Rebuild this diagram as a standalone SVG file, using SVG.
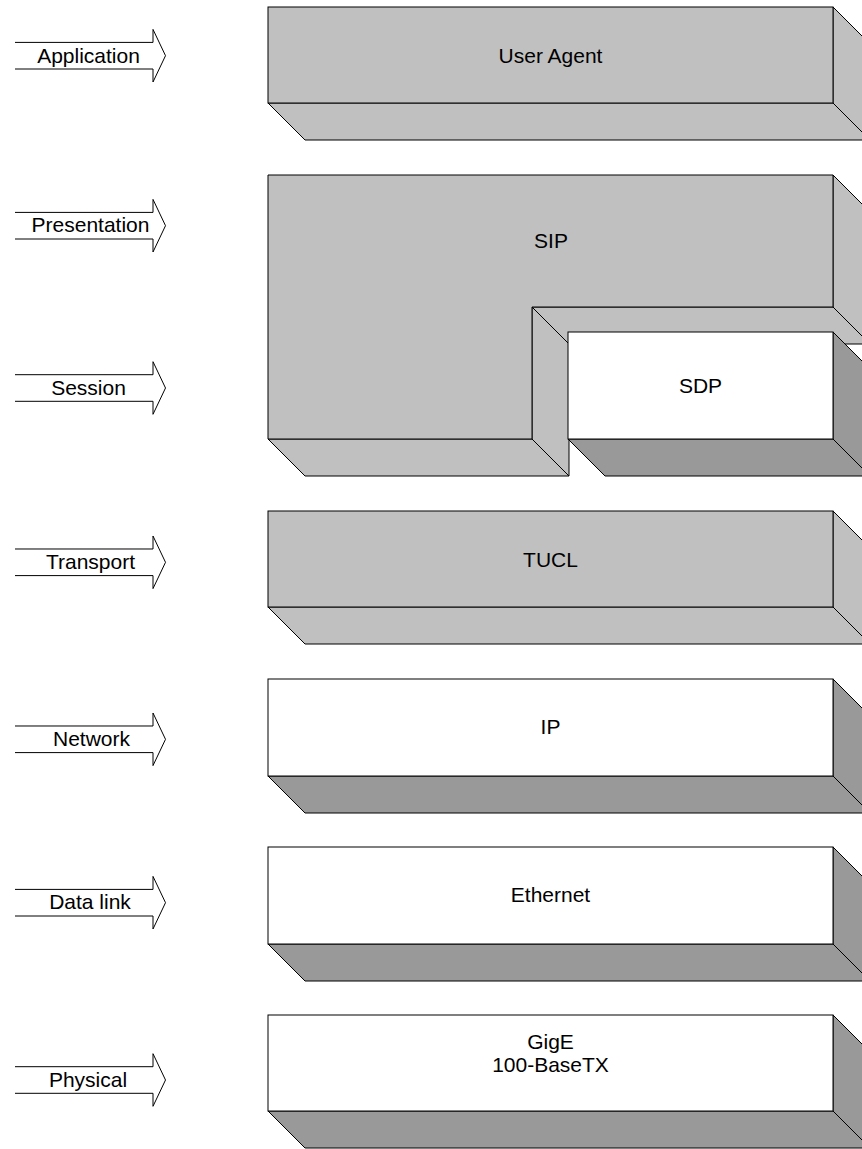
<svg xmlns="http://www.w3.org/2000/svg" width="862" height="1149" viewBox="0 0 862 1149">
  <style>
    .face { stroke: #000; stroke-width: 1; stroke-linejoin: miter; }
    .light { fill: #c0c0c0; }
    .dark { fill: #999999; }
    .white { fill: #ffffff; }
    .edge { fill: none; stroke: #000; stroke-width: 1; }
    .lbl { font-family: "Liberation Sans", Arial, sans-serif; font-size: 21px; fill: #000; text-anchor: middle; }
  </style>
  <defs>
    <!-- layer arrow: open shaft (top and bottom lines only) with an open chevron head -->
    <path id="layerArrow" class="edge" d="M15,-13.3 H153 V-26.3 L165.5,0 L153,26.3 V13.3 H15"/>
  </defs>
  <rect width="862" height="1149" fill="#fff"/>

  <!-- OSI layer arrows on the left -->
  <g id="layers">
    <g id="arrow-application"><use href="#layerArrow" transform="translate(0,55.7)"/><text class="lbl" x="88.5" y="62.5">Application</text></g>
    <g id="arrow-presentation"><use href="#layerArrow" transform="translate(0,225.7)"/><text class="lbl" x="90.5" y="232">Presentation</text></g>
    <g id="arrow-session"><use href="#layerArrow" transform="translate(0,388)"/><text class="lbl" x="88.5" y="394.5">Session</text></g>
    <g id="arrow-transport"><use href="#layerArrow" transform="translate(0,562.3)"/><text class="lbl" x="90.5" y="568.5">Transport</text></g>
    <g id="arrow-network"><use href="#layerArrow" transform="translate(0,739.3)"/><text class="lbl" x="91.5" y="746">Network</text></g>
    <g id="arrow-datalink"><use href="#layerArrow" transform="translate(0,902.7)"/><text class="lbl" x="90" y="909">Data link</text></g>
    <g id="arrow-physical"><use href="#layerArrow" transform="translate(0,1080)"/><text class="lbl" x="88" y="1086.5">Physical</text></g>
  </g>

  <!-- User Agent -->
  <g id="user-agent">
    <polygon class="face light" points="268,103 833,103 870,140 305,140"/>
    <polygon class="face light" points="833,7 870,44 870,140 833,103"/>
    <rect class="face light" x="268" y="7" width="565" height="96"/>
    <text class="lbl" x="550.5" y="62.5">User Agent</text>
  </g>

  <!-- SIP with the SDP notch -->
  <g id="sip">
    <polygon class="face light" points="268,439 532,439 569,476 305,476"/>
    <polygon class="face light" points="532,307 569,344 569,476 532,439"/>
    <polygon class="face light" points="532,307 833,307 870,344 569,344"/>
    <polygon class="face light" points="833,175 870,212 870,344 833,307"/>
    <polygon class="face light" points="268,175 833,175 833,307 532,307 532,439 268,439"/>
    <text class="lbl" x="551" y="248">SIP</text>
  </g>

  <g id="sdp">
    <polygon class="face dark" points="568,439 833,439 870,476 605,476"/>
    <polygon class="face dark" points="833,332 870,369 870,476 833,439"/>
    <rect class="face white" x="568" y="332" width="265" height="107"/>
    <text class="lbl" x="700.5" y="393">SDP</text>
  </g>

  <!-- TUCL -->
  <g id="tucl">
    <polygon class="face light" points="268,607 833,607 870,644 305,644"/>
    <polygon class="face light" points="833,511 870,548 870,644 833,607"/>
    <rect class="face light" x="268" y="511" width="565" height="96"/>
    <text class="lbl" x="550.5" y="566.5">TUCL</text>
  </g>

  <!-- IP -->
  <g id="ip">
    <polygon class="face dark" points="268,776 833,776 870,813 305,813"/>
    <polygon class="face dark" points="833,679 870,716 870,813 833,776"/>
    <rect class="face white" x="268" y="679" width="565" height="97"/>
    <text class="lbl" x="550.5" y="734">IP</text>
  </g>

  <!-- Ethernet -->
  <g id="ethernet">
    <polygon class="face dark" points="268,944 833,944 870,981 305,981"/>
    <polygon class="face dark" points="833,847 870,884 870,981 833,944"/>
    <rect class="face white" x="268" y="847" width="565" height="97"/>
    <text class="lbl" x="550.5" y="902">Ethernet</text>
  </g>

  <!-- Physical media -->
  <g id="phy">
    <polygon class="face dark" points="268,1111 833,1111 870,1148 305,1148"/>
    <polygon class="face dark" points="833,1015 870,1052 870,1148 833,1111"/>
    <rect class="face white" x="268" y="1015" width="565" height="96"/>
    <text class="lbl" x="550.5" y="1049">GigE</text>
    <text class="lbl" x="550.5" y="1072">100-BaseTX</text>
  </g>
</svg>
